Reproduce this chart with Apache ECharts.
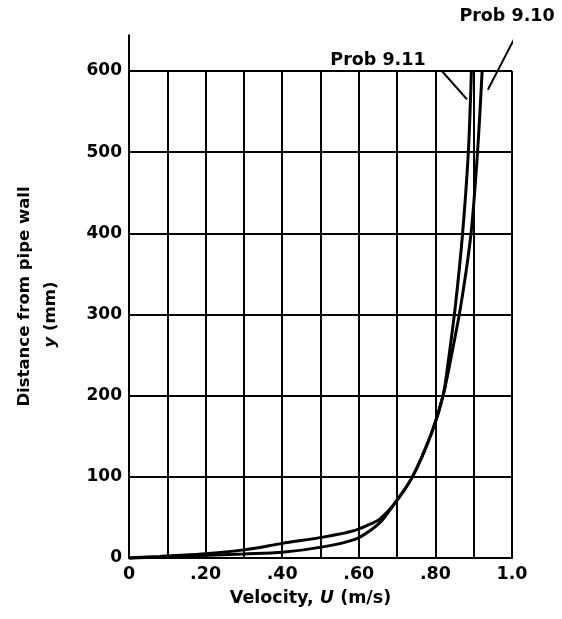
<!DOCTYPE html>
<html>
<head>
<meta charset="utf-8">
<script src="https://cdn.jsdelivr.net/npm/echarts@6/dist/echarts.min.js"></script>
<style>html,body{margin:0;padding:0;background:#fff}#c{width:562px;height:619px}</style>
</head>
<body>
<div id="c"></div>
<script>
// Prob 9.10 profile: distance from wall (mm) and velocity (m/s)
const y910 = [0, 2, 5, 10, 18, 26, 34, 44, 48, 65, 100, 154, 200, 240, 310, 400, 500, 600];
const u910 = [0, 0.08, 0.19, 0.30, 0.40, 0.51, 0.59, 0.64, 0.655, 0.69, 0.74, 0.79, 0.82, 0.838, 0.866, 0.893, 0.910, 0.922];
// Prob 9.11 profile
const y911 = [0, 1, 3, 5, 7, 14, 23, 34, 46, 65, 100, 154, 200, 240, 310, 400, 500, 600];
const u911 = [0, 0.08, 0.19, 0.30, 0.40, 0.51, 0.59, 0.63, 0.66, 0.69, 0.74, 0.79, 0.82, 0.833, 0.852, 0.871, 0.886, 0.894];
// axis tick values
const xTicks = [0, 0.2, 0.4, 0.6, 0.8, 1.0];
const xTickLabels = ['0', '.20', '.40', '.60', '.80', '1.0'];
const yTicks = [0, 100, 200, 300, 400, 500, 600];
// annotation labels and leaders (data coords)
const labelNames = ['Prob 9.11', 'Prob 9.10'];
const labelPos = [[0.65, 613], [0.987, 667]];
const leader911 = [[0.817, 600], [0.8825, 565]];
const leader910 = [[1.016, 649], [0.937, 577]];
const axisExt = [[0, 600], [0, 645]];

const pairs = (u, y) => u.map((v, i) => [v, y[i]]);
const FONT = '"DejaVu Sans", sans-serif';

const chart = echarts.init(document.getElementById('c'), null, {renderer: 'canvas'});
chart.setOption({
  animation: false,
  backgroundColor: '#fff',
  grid: {left: 129, right: 50, top: 71, bottom: 61},
  xAxis: {
    type: 'value', min: 0, max: 1.0, interval: 0.1,
    axisLine: {lineStyle: {color: '#000', width: 2}},
    axisTick: {show: false},
    splitLine: {show: true, lineStyle: {color: '#000', width: 2}},
    axisLabel: {
      margin: 7, color: '#000', fontFamily: FONT, fontWeight: 'bold', fontSize: 17.5,
      formatter: v => {
        const i = xTicks.findIndex(t => Math.abs(t - v) < 1e-6);
        return i >= 0 ? xTickLabels[i] : '';
      }
    },
    name: '{a|Velocity, }{i|U}{a| (m/s)}',
    nameLocation: 'middle', nameGap: 31,
    nameTextStyle: {color: '#000', fontFamily: FONT, fontSize: 17.5, fontWeight: 'bold',
      padding: [0, 20, 0, 0],
      rich: {
        a: {fontFamily: FONT, fontSize: 17.5, fontWeight: 'bold', color: '#000'},
        i: {fontStyle: 'italic', fontFamily: FONT, fontSize: 17.5, fontWeight: 'bold', color: '#000'}
      }}
  },
  yAxis: {
    type: 'value', min: 0, max: 600, interval: 100,
    axisLine: {show: true, lineStyle: {color: '#000', width: 2}},
    axisTick: {show: false},
    splitLine: {show: true, lineStyle: {color: '#000', width: 2}},
    axisLabel: {margin: 7, color: '#000', fontFamily: FONT, fontWeight: 'bold', fontSize: 17,
      formatter: v => yTicks.includes(v) ? String(v) : ''},
    name: '{a|Distance from pipe wall}\n{i|y}{b| (mm)}',
    nameLocation: 'middle', nameGap: 65, nameRotate: 90,
    nameTextStyle: {color: '#000', fontFamily: FONT, fontSize: 16.5, fontWeight: 'bold', lineHeight: 26,
      rich: {
        a: {fontFamily: FONT, fontSize: 16.5, fontWeight: 'bold', color: '#000', lineHeight: 26, padding: [0, 0, 0, 36]},
        b: {fontFamily: FONT, fontSize: 16.5, fontWeight: 'bold', color: '#000', lineHeight: 26},
        i: {fontStyle: 'italic', fontFamily: FONT, fontSize: 16.5, fontWeight: 'bold', color: '#000', lineHeight: 26}
      }}
  },
  series: [
    {type: 'line', name: 'Prob 9.10', data: pairs(u910, y910), smooth: 0.3, showSymbol: false,
      lineStyle: {color: '#000', width: 3}, clip: false},
    {type: 'line', name: 'Prob 9.11', data: pairs(u911, y911), smooth: 0.3, showSymbol: false,
      lineStyle: {color: '#000', width: 3}, clip: false},
    {type: 'line', data: leader911, showSymbol: false, lineStyle: {color: '#000', width: 2}, clip: false},
    {type: 'line', data: leader910, showSymbol: false, lineStyle: {color: '#000', width: 2}, clip: false},
    {type: 'line', data: axisExt, showSymbol: false, lineStyle: {color: '#000', width: 2}, clip: false},
    {type: 'scatter', symbolSize: 0, clip: false, itemStyle: {color: '#000', opacity: 1},
      data: labelPos.map((p, i) => ({value: p, name: labelNames[i]})),
      label: {show: true, position: 'inside', formatter: p => p.name, color: '#000', opacity: 1,
        textBorderWidth: 0, fontFamily: FONT, fontWeight: 'bold', fontSize: 17.5}}
  ]
});
</script>
</body>
</html>
